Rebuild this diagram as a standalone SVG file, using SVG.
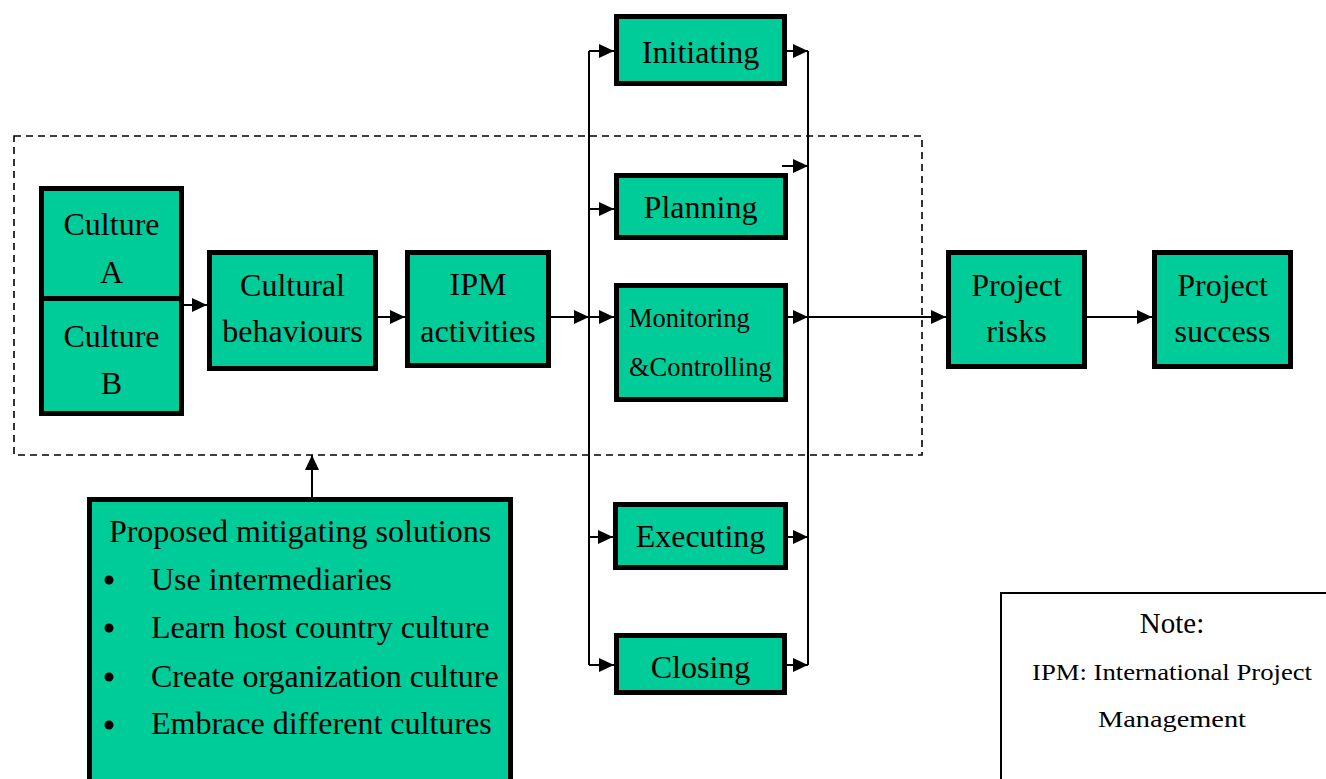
<svg xmlns="http://www.w3.org/2000/svg" width="1326" height="779" viewBox="0 0 1326 779">
<style>
.box{fill:#00CC99;stroke:#000;stroke-width:5}
.t{font-family:"Liberation Serif","Times New Roman",serif;font-size:32px;fill:#000;text-anchor:middle}
.tl{font-family:"Liberation Serif","Times New Roman",serif;font-size:32px;fill:#000}
.c{fill:none;stroke:#000;stroke-width:2}
.a{fill:none;stroke:#000;stroke-width:2;marker-end:url(#ah)}
</style>
<defs>
<marker id="ah" markerUnits="userSpaceOnUse" markerWidth="15" markerHeight="14" refX="15" refY="7" orient="auto">
<path d="M0,0 L15,7 L0,14 Z" fill="#000"/>
</marker>
</defs>
<rect width="1326" height="779" fill="#fff"/>
<rect x="14" y="136" width="908" height="319" fill="none" stroke="#000" stroke-width="1.6" stroke-dasharray="7,5"/>

<g id="connectors">
<line class="a" x1="184" y1="305" x2="207" y2="305"/>
<line class="a" x1="378" y1="317" x2="405" y2="317"/>
<line class="a" x1="551" y1="317" x2="589" y2="317"/>
<line class="c" x1="589" y1="51" x2="589" y2="665"/>
<line class="a" x1="589" y1="51" x2="614" y2="51"/>
<line class="a" x1="589" y1="209" x2="614" y2="209"/>
<line class="a" x1="589" y1="317" x2="614" y2="317"/>
<line class="a" x1="589" y1="537" x2="613" y2="537"/>
<line class="a" x1="589" y1="665" x2="614" y2="665"/>
<line class="c" x1="808" y1="51" x2="808" y2="665"/>
<line class="a" x1="787" y1="51" x2="808" y2="51"/>
<line class="a" x1="782" y1="166" x2="808" y2="166"/>
<line class="a" x1="788" y1="317" x2="808" y2="317"/>
<line class="a" x1="788" y1="537" x2="808" y2="537"/>
<line class="a" x1="787" y1="665" x2="808" y2="665"/>
<line class="a" x1="808" y1="317" x2="946" y2="317"/>
<line class="a" x1="1087" y1="317" x2="1152" y2="317"/>
<line class="a" x1="312" y1="497" x2="312" y2="455"/>
</g>

<g id="culture-a">
<rect class="box" x="41.5" y="188.5" width="140" height="110"/>
<text class="t" x="111.5" y="235">Culture</text>
<text class="t" x="111.5" y="283">A</text>
</g>
<g id="culture-b">
<rect class="box" x="41.5" y="298.5" width="140" height="115"/>
<text class="t" x="111.5" y="347">Culture</text>
<text class="t" x="111.5" y="394">B</text>
</g>
<g id="cultural-behaviours">
<rect class="box" x="209.5" y="252.5" width="166" height="116"/>
<text class="t" x="292.5" y="296">Cultural</text>
<text class="t" x="292.5" y="342">behaviours</text>
</g>
<g id="ipm-activities">
<rect class="box" x="407.5" y="252.5" width="141" height="113"/>
<text class="t" x="478" y="295">IPM</text>
<text class="t" x="478" y="342">activities</text>
</g>
<g id="initiating">
<rect class="box" x="616.5" y="16.5" width="168" height="67"/>
<text class="t" x="700.5" y="63">Initiating</text>
</g>
<g id="planning">
<rect class="box" x="616.5" y="175.5" width="169" height="62"/>
<text class="t" x="700.5" y="218">Planning</text>
</g>
<g id="monitoring">
<rect class="box" x="616.5" y="285.5" width="169" height="114"/>
<text class="tl" x="629" y="327" style="font-size:26.5px">Monitoring</text>
<text class="tl" x="629" y="376" style="font-size:26.5px">&amp;Controlling</text>
</g>
<g id="executing">
<rect class="box" x="615.5" y="504.5" width="170" height="63"/>
<text class="t" x="700.5" y="547">Executing</text>
</g>
<g id="closing">
<rect class="box" x="616.5" y="635.5" width="168" height="57"/>
<text class="t" x="700.5" y="678">Closing</text>
</g>
<g id="project-risks">
<rect class="box" x="948.5" y="252.5" width="136" height="114"/>
<text class="t" x="1016.5" y="296">Project</text>
<text class="t" x="1016.5" y="342">risks</text>
</g>
<g id="project-success">
<rect class="box" x="1154.5" y="252.5" width="136" height="114"/>
<text class="t" x="1222.5" y="296">Project</text>
<text class="t" x="1222.5" y="342">success</text>
</g>
<g id="solutions">
<rect class="box" x="89.5" y="499.5" width="421" height="290"/>
<text class="t" x="300" y="542">Proposed mitigating solutions</text>
<circle cx="109" cy="580" r="4.5"/>
<circle cx="109" cy="628" r="4.5"/>
<circle cx="109" cy="677" r="4.5"/>
<circle cx="109" cy="725" r="4.5"/>
<text class="tl" x="151" y="590">Use intermediaries</text>
<text class="tl" x="151" y="638">Learn host country culture</text>
<text class="tl" x="151" y="687">Create organization culture</text>
<text class="tl" x="151" y="734">Embrace different cultures</text>
</g>
<g id="note">
<rect x="1001" y="593" width="340" height="200" fill="#fff" stroke="#000" stroke-width="2"/>
<text class="t" x="1172" y="633" style="font-size:29px">Note:</text>
<text class="t" x="1172" y="680" style="font-size:24px" textLength="280" lengthAdjust="spacingAndGlyphs">IPM: International Project</text>
<text class="t" x="1172" y="727" style="font-size:24px" textLength="148" lengthAdjust="spacingAndGlyphs">Management</text>
</g>
</svg>
